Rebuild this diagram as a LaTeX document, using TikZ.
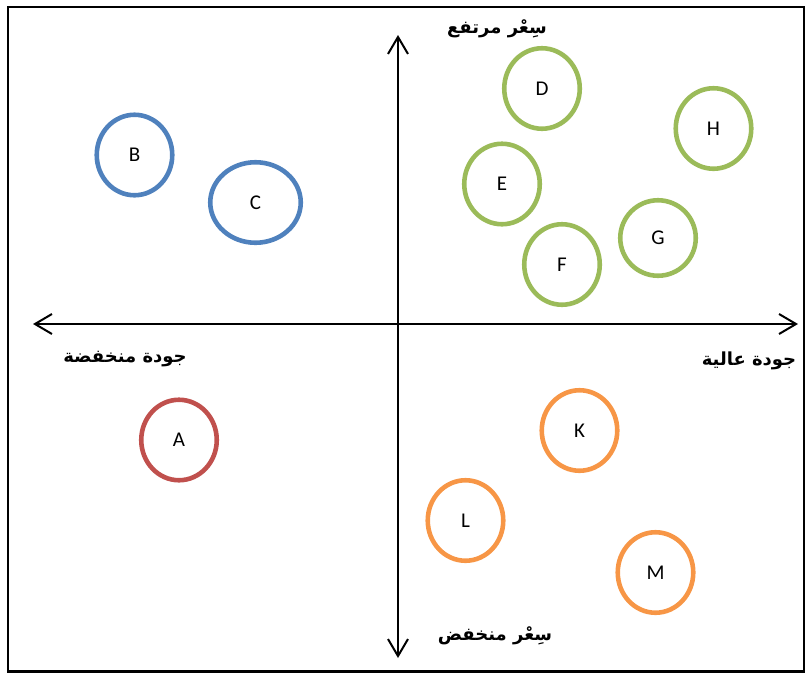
\documentclass[tikz,border=0pt]{standalone}
\usepackage{fontspec}
\usetikzlibrary{shapes.geometric,arrows.meta}
\setmainfont{Carlito}
\newfontfamily\arabicfont[Script=Arabic]{DejaVu Sans}
\TeXXeTstate=1
\definecolor{grpblue}{HTML}{4F81BD}
\definecolor{grpgreen}{HTML}{9BBB59}
\definecolor{grpred}{HTML}{C0504D}
\definecolor{grporange}{HTML}{F79646}
\tikzset{
  brand/.style={ellipse, draw=#1, line width=4.6pt, inner sep=0pt,
    minimum width=75.5pt, minimum height=80.5pt,
    font=\fontsize{21}{21}\selectfont},
  axislabel/.style={font=\arabicfont\bfseries\fontsize{18}{21}\selectfont, inner sep=0pt},
  axisline/.style={line width=2pt, {Straight Barb[length=17pt,width=20pt,line width=2pt]}-{Straight Barb[length=17pt,width=20pt,line width=2pt]}}
}
\begin{document}
\begin{tikzpicture}[x=1pt,y=-1pt]
\useasboundingbox (0,0) rectangle (806,673);
% outer frame
\draw[line width=2.5pt] (8,7) rectangle (804,671.5);

% axes
\coordinate (xleft) at (33,324);
\coordinate (xright) at (798,324);
\coordinate (ytop) at (398,35);
\coordinate (ybottom) at (398,658);
\draw[axisline] (xleft) -- (xright);
\draw[axisline] (ybottom) -- (ytop);

% axis labels
\node[axislabel] (pricehigh) at (497,29) {\beginR سِعْر مرتفع\endR};
\node[axislabel] (pricelow) at (495,636) {\beginR سِعْر منخفض\endR};
\node[axislabel] (qualitylow) at (125,359) {\beginR جودة منخفضة\endR};
\node[axislabel] (qualityhigh) at (749,361) {\beginR جودة عالية\endR};

% blue group
\node[brand=grpblue] (B) at (134.5,155) {B};
\node[brand=grpblue, minimum width=90.5pt] (C) at (255.5,202.5) {C};
% green group
\node[brand=grpgreen] (D) at (542,88.5) {D};
\node[brand=grpgreen] (E) at (502,184) {E};
\node[brand=grpgreen] (F) at (562,264.5) {F};
\node[brand=grpgreen, minimum height=75.5pt] (G) at (658,238) {G};
\node[brand=grpgreen] (H) at (713.5,128.5) {H};
% red
\node[brand=grpred] (A) at (179,440) {A};
% orange group
\node[brand=grporange] (K) at (579.5,430.5) {K};
\node[brand=grporange] (L) at (465.5,520.5) {L};
\node[brand=grporange] (M) at (655.5,572.5) {M};
\end{tikzpicture}
\end{document}
